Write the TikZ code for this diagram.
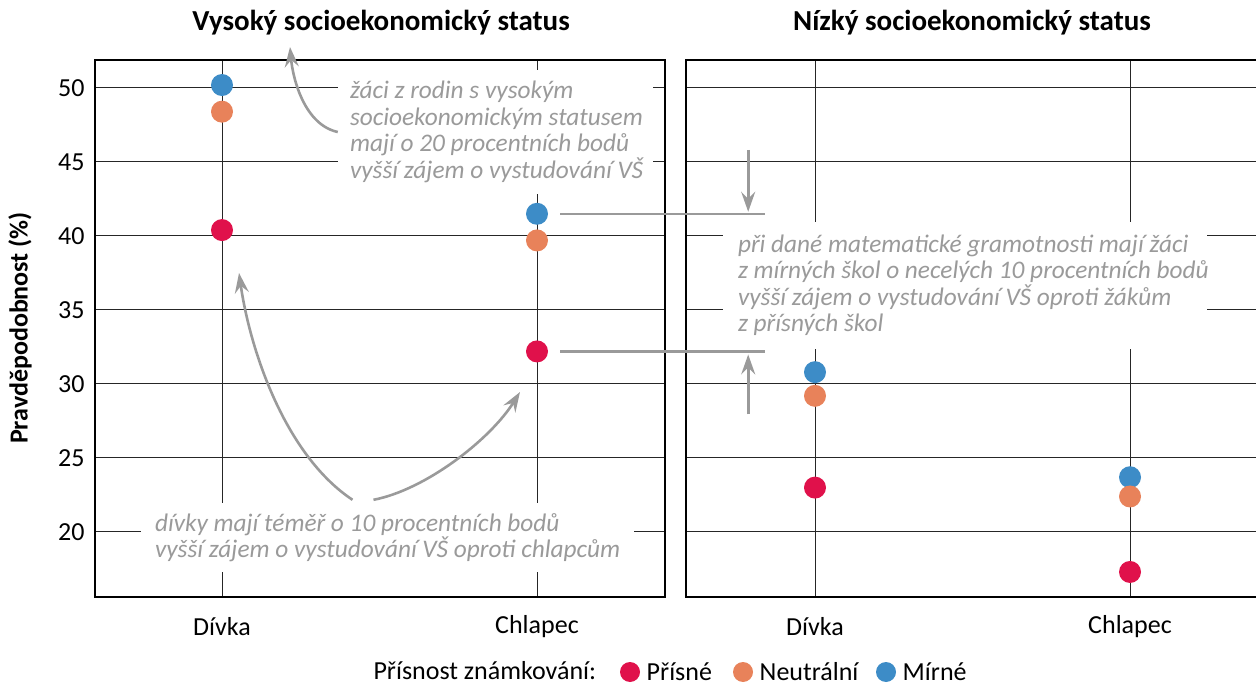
\documentclass[tikz,border=0pt]{standalone}
\usepackage{fontspec}
\setmainfont{Carlito}
\usetikzlibrary{arrows.meta}

\definecolor{strict}{HTML}{E0114B}
\definecolor{neutral}{HTML}{E8825A}
\definecolor{mild}{HTML}{3D8CC7}
\definecolor{notegray}{HTML}{9A9A9A}
\newcommand{\notefont}{\fontsize{25.3}{26.5}\selectfont\itshape}

\begin{document}
\begin{tikzpicture}[x=1pt, y=1pt,
    frame/.style={line width=1.8pt},
    gridline/.style={line width=1pt, black!85},
    dot/.style={circle, inner sep=0pt, minimum size=22pt},
    tick/.style={font=\fontsize{26}{30}\selectfont},
    notebox/.style={fill=white, inner sep=0pt},
    note/.style={text=notegray, align=left, inner sep=0pt, anchor=west, font=\notefont},
    notearrow/.style={draw=notegray, line width=2.6pt, -{Stealth[length=20pt, width=14pt, inset=7pt]}},
    noteline/.style={draw=notegray, line width=2.2pt}]

    \useasboundingbox (0,0) rectangle (1256,686);

    % Grid and ticks
    \begin{scope}[y=14.8pt, yshift=-142pt]
        \foreach \v in {20,25,...,50} {
                \draw[gridline] (95,\v) -- (665,\v);
                \draw[gridline] (686,\v) -- (1256,\v);
                \node[tick, anchor=east] (tick\v) at (88,\v) {\v};
            }
    \end{scope}
    \foreach \x in {222,537,815,1130}
        \draw[gridline] (\x,89) -- (\x,626);

    % Notes
    \node[notebox, minimum width=315pt, minimum height=124pt] (boxHigh) at (495.5,554) {};
    \node[note] (noteHigh) at ([xshift=12pt]boxHigh.west)
        {žáci z rodin s vysokým\\socioekonomickým statusem\\mají o 20 procentních bodů\\vyšší zájem o vystudování VŠ};
    \node[notebox, minimum width=484pt, minimum height=127pt] (boxMild) at (965,400.5) {};
    \node[note] (noteMild) at ([xshift=15pt]boxMild.west)
        {při dané matematické gramotnosti mají žáci\\z mírných škol o necelých 10 procentních bodů\\vyšší zájem o vystudování VŠ oproti žákům\\z přísných škol};
    \node[notebox, minimum width=493pt, minimum height=69pt] (boxGirls) at (387.5,148.5) {};
    \node[note] (noteGirls) at ([xshift=14pt]boxGirls.west)
        {dívky mají téměř o 10 procentních bodů\\vyšší zájem o vystudování VŠ oproti chlapcům};

    % Frames
    \draw[frame] (95,89) rectangle (665,626);
    \draw[frame] (1256,626) -- (686,626) -- (686,89) -- (1256,89);

    % Data points
    \begin{scope}[y=14.8pt, yshift=-142pt]
        \foreach \x/\v/\c/\n in {222/50.2/mild/hiGirlM, 222/48.4/neutral/hiGirlN, 222/40.4/strict/hiGirlS,
                537/41.5/mild/hiBoyM, 537/39.7/neutral/hiBoyN, 537/32.2/strict/hiBoyS,
                815/30.8/mild/loGirlM, 815/29.2/neutral/loGirlN, 815/23.0/strict/loGirlS,
                1130/23.7/mild/loBoyM, 1130/22.4/neutral/loBoyN, 1130/17.3/strict/loBoyS}
            \node[dot, fill=\c] (\n) at (\x,\v) {};
    \end{scope}

    % Arrows
    \coordinate (highTip) at (290,639);
    \draw[notearrow] (boxHigh.west) .. controls (305,561) and (293,606) .. (highTip);

    \draw[noteline] ([xshift=12pt]hiBoyM.east) -- ++(205,0) coordinate (mildEnd);
    \draw[notearrow] ([shift={(-17,64)}]mildEnd) -- ([shift={(-17,2)}]mildEnd);
    \draw[noteline] ([xshift=12pt]hiBoyS.east) -- ++(205,0) coordinate (strictEnd);
    \draw[notearrow] ([shift={(-17,-63)}]strictEnd) -- ([shift={(-17,-3)}]strictEnd);

    \coordinate (girlTip) at (239,413);
    \coordinate (boyTip) at (520,294);
    \draw[notearrow] ([shift={(-35,3)}]boxGirls.north) .. controls (285,231) and (250,336) .. (girlTip);
    \draw[notearrow] ([shift={(-14,3)}]boxGirls.north) .. controls (425,196) and (490,246) .. (boyTip);

    % Titles and labels
    \node[font=\bfseries\fontsize{29}{32}\selectfont] (titleHigh) at (381,663) {Vysoký socioekonomický status};
    \node[font=\bfseries\fontsize{29}{32}\selectfont] (titleLow) at (972,663) {Nízký socioekonomický status};
    \node[rotate=90, font=\bfseries\fontsize{26}{30}\selectfont] (ylabel) at (20,358) {Pravděpodobnost (\%)};
    \foreach \x/\t in {222/Dívka, 537/Chlapec, 815/Dívka, 1130/Chlapec}
        \node[tick] (cat\x) at (\x,59) {\t};

    % Legend
    \node[tick, anchor=west, inner ysep=0pt] (legTitle) at (370,15) {Přísnost známkování:};
    \foreach \x/\c/\t in {630/strict/Přísné, 743/neutral/Neutrální, 886/mild/Mírné} {
            \node[dot, fill=\c, minimum size=20pt] (leg\c) at (\x,14) {};
            \node[tick, anchor=west, inner ysep=0pt] (legText\c) at ([xshift=3pt]leg\c.east) {\t};
        }
\end{tikzpicture}
\end{document}
